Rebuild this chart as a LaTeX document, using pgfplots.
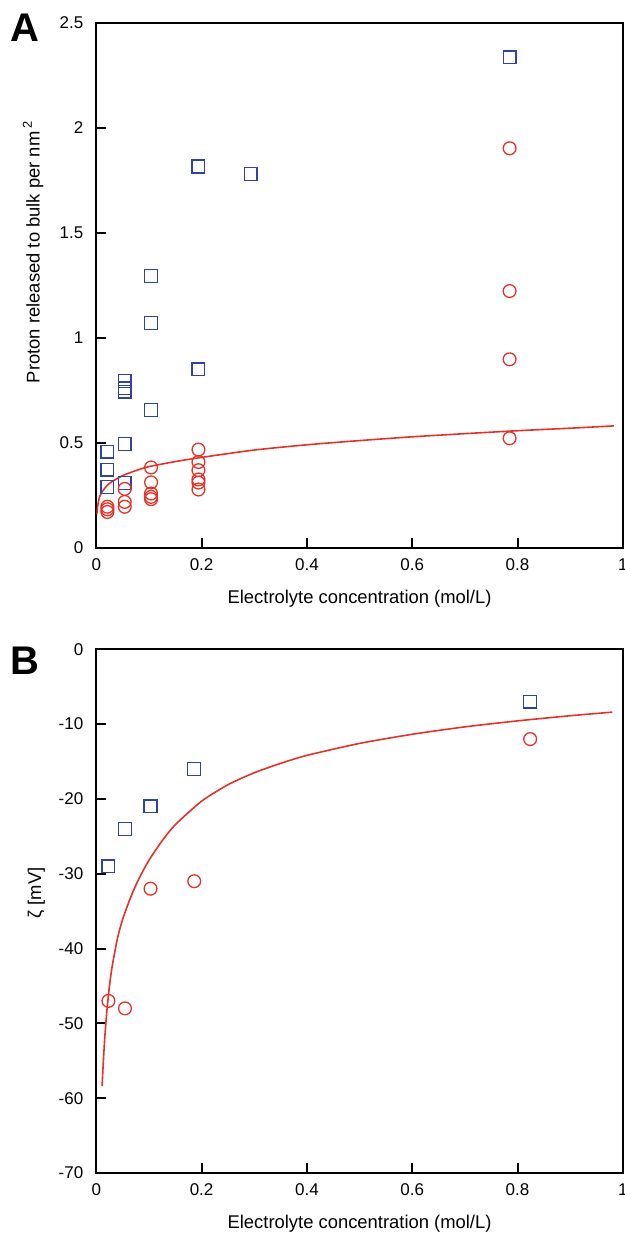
\documentclass[border=0pt]{standalone}
\usepackage{fontspec}
\setmainfont{Liberation Sans}
\usepackage{pgfplots}
\pgfplotsset{compat=1.18}

\definecolor{sqblue}{RGB}{48,66,168}
\definecolor{fitred}{RGB}{228,50,40}

\pgfplotsset{
  panel/.style={
    scale only axis,
    width=263.25pt,
    xmin=0, xmax=1,
    xtick={0,0.2,0.4,0.6,0.8,1},
    tick pos=left, tick align=inside,
    major tick length=5pt,
    axis line style={line width=1pt},
    tick style={line width=1pt, black},
    /pgf/number format/assume math mode=true,
    ticklabel style={font=\fontsize{8.5}{10}\selectfont},
    yticklabel style={xshift=-3pt},
    xticklabel style={yshift=-2pt},
    label style={font=\fontsize{9.2}{11}\selectfont},
    xlabel={Electrolyte concentration (mol/L)},
    xlabel style={at={(axis description cs:0.5,0)}, anchor=north, inner sep=0pt, yshift=-21pt},
  },
  sq/.style={only marks, mark=square, mark size=3.2pt,
    mark options={draw=sqblue, fill=none, line width=0.65pt}},
  ci/.style={only marks, mark=o, mark size=3.2pt,
    mark options={draw=fitred, fill=none, line width=0.65pt}},
  fit/.style={no marks, smooth, tension=0.4, draw=fitred, line width=0.8pt},
}

\begin{document}
\begin{tikzpicture}
\useasboundingbox (0,0) rectangle (312.5pt,620.5pt);

% ---- panel A ----
\begin{axis}[
  panel,
  at={(48.15pt,346.65pt)}, anchor=south west,
  height=262.5pt,
  ymin=0, ymax=2.5,
  ytick={0,0.5,1,1.5,2,2.5},
  ylabel={Proton released to bulk per nm\,\textsuperscript{2}},
  ylabel style={at={(axis description cs:-0.120,0.564)}, anchor=center},
]
\addplot[sq] coordinates {
  (0.021,0.457) (0.021,0.372) (0.021,0.289)
  (0.054,0.794) (0.054,0.759) (0.054,0.743) (0.054,0.493) (0.054,0.307)
  (0.104,1.294) (0.104,1.071) (0.104,0.656)
  (0.194,1.815) (0.194,0.849)
  (0.293,1.780)
  (0.785,2.335)
};
\addplot[ci] coordinates {
  (0.021,0.195) (0.021,0.183) (0.021,0.170)
  (0.054,0.280) (0.054,0.218) (0.054,0.195)
  (0.104,0.382) (0.104,0.311) (0.104,0.258) (0.104,0.242) (0.104,0.231)
  (0.194,0.467) (0.194,0.408) (0.194,0.369) (0.194,0.325) (0.194,0.310) (0.194,0.277)
  (0.785,1.902) (0.785,1.222) (0.785,0.897) (0.785,0.521)
};
\addplot[fit] coordinates {
  (0.001,0.160) (0.003,0.205) (0.006,0.240) (0.010,0.262) (0.020,0.295)
  (0.030,0.315) (0.050,0.343) (0.075,0.367) (0.100,0.386) (0.150,0.410)
  (0.200,0.430) (0.300,0.465) (0.400,0.490) (0.500,0.510) (0.600,0.528)
  (0.700,0.543) (0.800,0.557) (0.900,0.569) (0.983,0.580)
};
\end{axis}

% ---- panel B ----
\begin{axis}[
  panel,
  at={(48.15pt,34pt)}, anchor=south west,
  height=261.85pt,
  ymin=-70, ymax=0,
  ytick={-70,-60,-50,-40,-30,-20,-10,0},
  ylabel={ζ [mV]},
  ylabel style={at={(axis description cs:-0.114,0.535)}, anchor=center},
]
\addplot[sq] coordinates {
  (0.023,-29) (0.0545,-24) (0.103,-21) (0.186,-16) (0.824,-7)
};
\addplot[ci] coordinates {
  (0.023,-47) (0.0545,-48) (0.103,-32) (0.186,-31) (0.824,-12)
};
\addplot[fit] coordinates {
  (0.011,-58.4) (0.013,-55.6) (0.016,-52.0) (0.020,-48.4) (0.025,-45.0)
  (0.030,-42.45) (0.040,-38.7) (0.050,-36.1) (0.065,-33.2) (0.080,-30.8)
  (0.100,-28.2) (0.125,-25.6) (0.150,-23.45) (0.200,-20.3) (0.250,-18.1)
  (0.300,-16.5) (0.350,-15.25) (0.400,-14.18) (0.500,-12.58) (0.600,-11.36)
  (0.700,-10.37) (0.800,-9.57) (0.900,-8.88) (0.980,-8.40)
};
\end{axis}

\node[anchor=north west, inner sep=0pt, font=\fontsize{20}{24}\selectfont\bfseries] at (5pt,613.85pt) {A};
\node[anchor=north west, inner sep=0pt, font=\fontsize{20}{24}\selectfont\bfseries] at (5pt,297.15pt) {B};
\end{tikzpicture}
\end{document}
